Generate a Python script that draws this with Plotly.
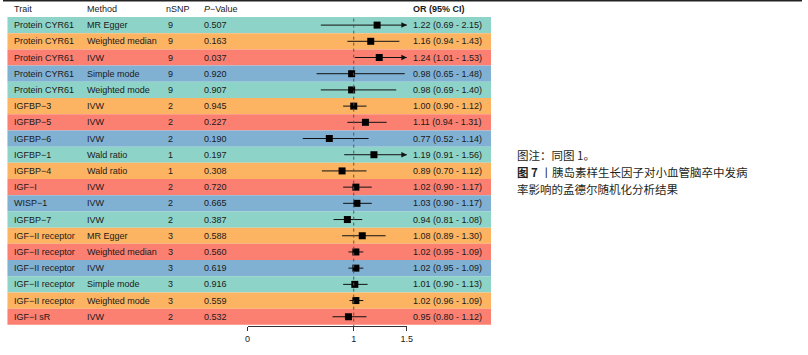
import plotly.graph_objects as go

traits = ["Protein CYR61", "Protein CYR61", "Protein CYR61", "Protein CYR61", "Protein CYR61",
          "IGFBP−3", "IGFBP−5", "IGFBP−6", "IGFBP−1", "IGFBP−4", "IGF−I", "WISP−1", "IGFBP−7",
          "IGF−II receptor", "IGF−II receptor", "IGF−II receptor", "IGF−II receptor",
          "IGF−II receptor", "IGF−I sR"]
methods = ["MR Egger", "Weighted median", "IVW", "Simple mode", "Weighted mode",
           "IVW", "IVW", "IVW", "Wald ratio", "Wald ratio", "IVW", "IVW", "IVW",
           "MR Egger", "Weighted median", "IVW", "Simple mode", "Weighted mode", "IVW"]
nsnp = [9, 9, 9, 9, 9, 2, 2, 2, 1, 1, 2, 2, 2, 3, 3, 3, 3, 3, 2]
pvals = ["0.507", "0.163", "0.037", "0.920", "0.907", "0.945", "0.227", "0.190", "0.197",
         "0.308", "0.720", "0.665", "0.387", "0.588", "0.560", "0.619", "0.916", "0.559", "0.532"]
or_vals = [1.22, 1.16, 1.24, 0.98, 0.98, 1.00, 1.11, 0.77, 1.19, 0.89, 1.02, 1.03, 0.94,
           1.08, 1.02, 1.02, 1.01, 1.02, 0.95]
lo_vals = [0.69, 0.94, 1.01, 0.65, 0.69, 0.90, 0.94, 0.52, 0.91, 0.70, 0.90, 0.90, 0.81,
           0.89, 0.95, 0.95, 0.90, 0.96, 0.80]
hi_vals = [2.15, 1.43, 1.53, 1.48, 1.40, 1.12, 1.31, 1.14, 1.56, 1.12, 1.17, 1.17, 1.08,
           1.30, 1.09, 1.09, 1.13, 1.09, 1.12]
headers = ["Trait", "Method", "nSNP", "<i>P</i>−Value", "<b>OR (95% CI)</b>"]
xticks = [0, 1, 1.5]
row_colors = ["#8DD3C7", "#FDB462", "#FB8072", "#80B1D3"]
caption = ["图注：同图 1。", "<b>图 7</b> 丨胰岛素样生长因子对小血管脑卒中发病", "率影响的孟德尔随机化分析结果"]

W, H = 808, 355
XMAX = 1.5
n = len(traits)
rows = list(range(1, n + 1))

FONT = "Liberation Sans, Arial, sans-serif"
TXT = "#1a1a1a"

def px(x):
    return x / W

fig = go.Figure()

# CI lines
lx, ly = [], []
for i, lo, hi in zip(rows, lo_vals, hi_vals):
    lx += [lo, min(hi, XMAX), None]
    ly += [i, i, None]
fig.add_trace(go.Scatter(x=lx, y=ly, mode="lines", line=dict(color="#111111", width=1),
                         hoverinfo="skip", showlegend=False, cliponaxis=False))
fig.add_trace(go.Scatter(x=or_vals, y=rows, mode="markers",
                         marker=dict(symbol="square", size=7, color="black"),
                         showlegend=False, cliponaxis=False))

shapes = []
# top border line
shapes.append(dict(type="rect", xref="paper", yref="paper", x0=0, x1=1,
                   y0=1 - 1.6 / 326, y1=1, fillcolor="#222222", line_width=0, layer="above"))
for k, i in enumerate(rows):
    shapes.append(dict(type="rect", xref="paper", yref="y", x0=px(4.5), x1=px(493.5),
                       y0=i - 0.5, y1=i + 0.5, fillcolor=row_colors[k % 4],
                       line_width=0, layer="below"))
shapes.append(dict(type="line", xref="x", yref="y", x0=1, x1=1, y0=0.6, y1=19.57,
                   line=dict(color="#555555", width=1, dash="3px,3px"), layer="above"))

ann = []
colx = [9, 83, 163, 201, 413]
for cx, h in zip(colx, headers):
    ann.append(dict(x=px(cx), y=0, xref="paper", yref="y", text=h, showarrow=False,
                    xanchor="left", yanchor="middle", font=dict(family=FONT, size=9, color=TXT)))
for k, i in enumerate(rows):
    vals = [traits[k], methods[k], str(nsnp[k]), pvals[k],
            f"{or_vals[k]:.2f} ({lo_vals[k]:.2f} - {hi_vals[k]:.2f})"]
    for j, (cx, v) in enumerate(zip(colx, vals)):
        ann.append(dict(x=px(cx + (1.5 if j == 2 else 0)), y=i, xref="paper", yref="y", text=v,
                        showarrow=False, xanchor="left", yanchor="middle",
                        font=dict(family=FONT, size=9, color=TXT)))
    if hi_vals[k] > XMAX:
        ann.append(dict(x=XMAX, y=i, ax=XMAX - 0.06, ay=i, xref="x", yref="y",
                        axref="x", ayref="y", text="", showarrow=True, arrowhead=2,
                        arrowsize=1.1, arrowwidth=1, arrowcolor="#111111"))

cap_y = [155, 172, 189]
for t, yy in zip(caption, cap_y):
    ann.append(dict(x=px(518), y=1 - yy / 326, xref="paper", yref="paper", text=t,
                    showarrow=False, xanchor="left", yanchor="middle",
                    font=dict(family="Noto Sans CJK SC", size=11.5, color="#231f20")))

fig.update_layout(
    width=W, height=H,
    margin=dict(l=0, r=0, t=0, b=29),
    plot_bgcolor="white", paper_bgcolor="white",
    shapes=shapes, annotations=ann,
    xaxis=dict(domain=[px(247.3), px(408.4)], range=[0, XMAX], tickvals=xticks,
               ticktext=[f"{v:g}" for v in xticks], showgrid=False, zeroline=False,
               showline=True, linecolor="#333333", linewidth=1, ticks="outside",
               ticklen=4, tickcolor="#333333", tickfont=dict(family=FONT, size=9, color=TXT)),
    yaxis=dict(domain=[0, 1], range=[19.57, -0.549], showgrid=False, zeroline=False,
               showticklabels=False, showline=False),
    showlegend=False,
)

fig.write_html("out.html", config={"displayModeBar": False},
               post_script="document.body.style.margin='0';document.body.style.overflow='hidden';")
